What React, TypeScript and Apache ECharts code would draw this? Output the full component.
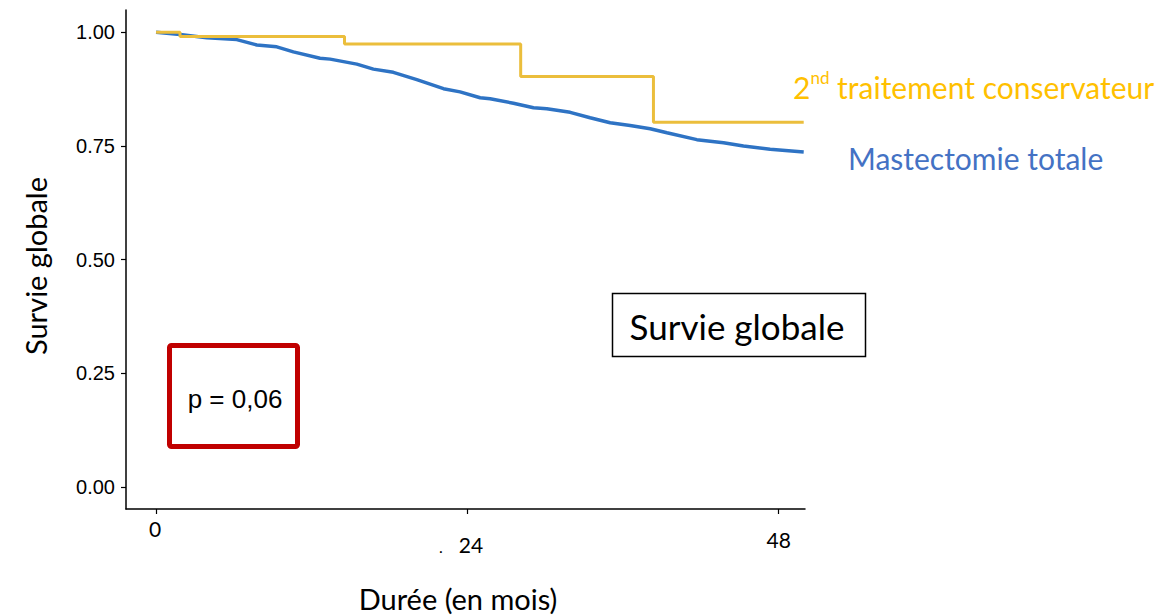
import React, { useEffect, useRef } from "react";
import * as echarts from "echarts";

// Mastectomie totale (Kaplan-Meier)
const mtMonths = [0, 1.85, 3.92, 6.23, 7.78, 9.32, 10.6, 12.66, 13.44, 15.5, 16.78, 18.32, 20.13, 22.19, 23.47, 25.02, 25.79, 27.59, 29.14, 30.17, 31.97, 33.51, 35.06, 36.6, 38.15, 39.44, 41.75, 43.81, 45.35, 47.41, 50.0];
const mtSurvival = [1.0, 0.995, 0.988, 0.984, 0.972, 0.968, 0.957, 0.943, 0.941, 0.93, 0.919, 0.912, 0.896, 0.876, 0.869, 0.856, 0.854, 0.844, 0.834, 0.832, 0.824, 0.812, 0.801, 0.795, 0.788, 0.779, 0.764, 0.757, 0.75, 0.743, 0.737];

// 2nd traitement conservateur
const tcMonths = [0, 1.85, 14.55, 28.15, 38.4, 50.0];
const tcSurvival = [1.0, 0.991, 0.974, 0.903, 0.802, 0.802];

const xTicks = [0, 24, 48];
const yTicks = [0, 0.25, 0.5, 0.75, 1.0];

const seriesNames = ["2nd traitement conservateur", "Mastectomie totale"];

export default function App() {
  const ref = useRef<HTMLDivElement>(null);
  useEffect(() => {
    if (!ref.current) return;
    const chart = echarts.init(ref.current, null, { renderer: "svg" });
    const mtData = mtMonths.map((m, i) => [m, mtSurvival[i]]);
    const tcData = tcMonths.map((m, i) => [m, tcSurvival[i]]);
    const calibri = "Lato, 'Open Sans', sans-serif";
    chart.setOption({
      animation: false,
      backgroundColor: "#ffffff",
      grid: { left: 126, right: 358, top: 10, bottom: 107, containLabel: false },
      xAxis: {
        type: "value",
        min: -2.32,
        max: 50.1,
        axisLine: { show: true, onZero: false, lineStyle: { color: "#000", width: 1.5 } },
        axisTick: { show: true, length: 5, customValues: xTicks, lineStyle: { color: "#000", width: 1.2 } },
        splitLine: { show: false },
        axisLabel: {
          customValues: xTicks,
          margin: 9,
          color: "#000",
          fontFamily: calibri,
          fontSize: 21,
          formatter: (v: number) => (v === 0 ? "{a|0}" : v === 24 ? "{b|24}" : "{c|48}"),
          rich: {
            a: { fontSize: 21, fontFamily: calibri, color: "#000", padding: [0, 2, 0, 0] },
            b: { fontSize: 21, fontFamily: calibri, color: "#000", padding: [16, 0, 0, 8] },
            c: { fontSize: 21, fontFamily: calibri, color: "#000", padding: [11, 0, 0, 2] },
          },
        },
      },
      yAxis: {
        type: "value",
        min: -0.048,
        max: 1.049,
        axisLine: { show: true, onZero: false, lineStyle: { color: "#000", width: 1.5 } },
        axisTick: { show: true, length: 5, customValues: yTicks, lineStyle: { color: "#000", width: 1.2 } },
        splitLine: { show: false },
        axisLabel: {
          customValues: yTicks,
          margin: 11,
          color: "#000",
          fontFamily: "'Liberation Sans', Arial, sans-serif",
          fontSize: 20,
          formatter: (v: number) => v.toFixed(2),
        },
      },
      series: [
        {
          name: seriesNames[0],
          type: "line",
          step: "end",
          data: tcData,
          showSymbol: false,
          lineStyle: { color: "#EBBE3C", width: 3 },
          z: 3,
        },
        {
          name: seriesNames[1],
          type: "line",
          data: mtData,
          showSymbol: false,
          lineStyle: { color: "#2E73C4", width: 3.5 },
          z: 2,
        },
      ],
      graphic: [
        {
          type: "text",
          left: 793,
          top: 69,
          style: {
            text: "{a|2}{s|nd}{a| traitement conservateur}",
            rich: {
              a: { fontSize: 30, fontFamily: calibri, fill: "#FFC000", lineHeight: 35 },
              s: { fontSize: 17, fontFamily: calibri, fill: "#FFC000", lineHeight: 35, verticalAlign: "top", padding: [0, 0, 14, 0] },
            },
          },
        },
        {
          type: "text",
          x: 848,
          y: 158,
          style: { text: seriesNames[1], fontSize: 30, fontFamily: calibri, fill: "#4472C4", align: "left", verticalAlign: "middle" },
        },
        {
          type: "text",
          x: 35,
          y: 266,
          rotation: Math.PI / 2,
          style: { text: "Survie globale", fontSize: 29, fontFamily: calibri, fill: "#000", align: "center", verticalAlign: "middle" },
        },
        {
          type: "text",
          x: 458,
          y: 598,
          style: { text: "Durée (en mois)", fontSize: 29, fontFamily: calibri, fill: "#000", align: "center", verticalAlign: "middle" },
        },
        {
          type: "text",
          x: 441,
          y: 546,
          style: { text: ".", fontSize: 16, fontFamily: calibri, fill: "#000", align: "center", verticalAlign: "middle" },
        },
        {
          type: "rect",
          shape: { x: 612.5, y: 293.5, width: 253, height: 63 },
          style: { fill: "#fff", stroke: "#000", lineWidth: 1.5 },
        },
        {
          type: "text",
          x: 737,
          y: 326,
          style: { text: "Survie globale", fontSize: 35, fontFamily: calibri, fill: "#000", align: "center", verticalAlign: "middle" },
        },
        {
          type: "rect",
          shape: { x: 169.5, y: 345.5, width: 128, height: 101, r: 2 },
          style: { fill: "#fff", stroke: "#C00000", lineWidth: 5 },
        },
        {
          type: "text",
          x: 235,
          y: 399,
          style: { text: "p = 0,06", fontSize: 26, fontFamily: "'Liberation Sans', Arial, sans-serif", fill: "#000", align: "center", verticalAlign: "middle" },
        },
      ],
    });
    return () => chart.dispose();
  }, []);
  return <div ref={ref} style={{ position: "fixed", left: 0, top: 0, width: 1163, height: 616 }} />;
}
